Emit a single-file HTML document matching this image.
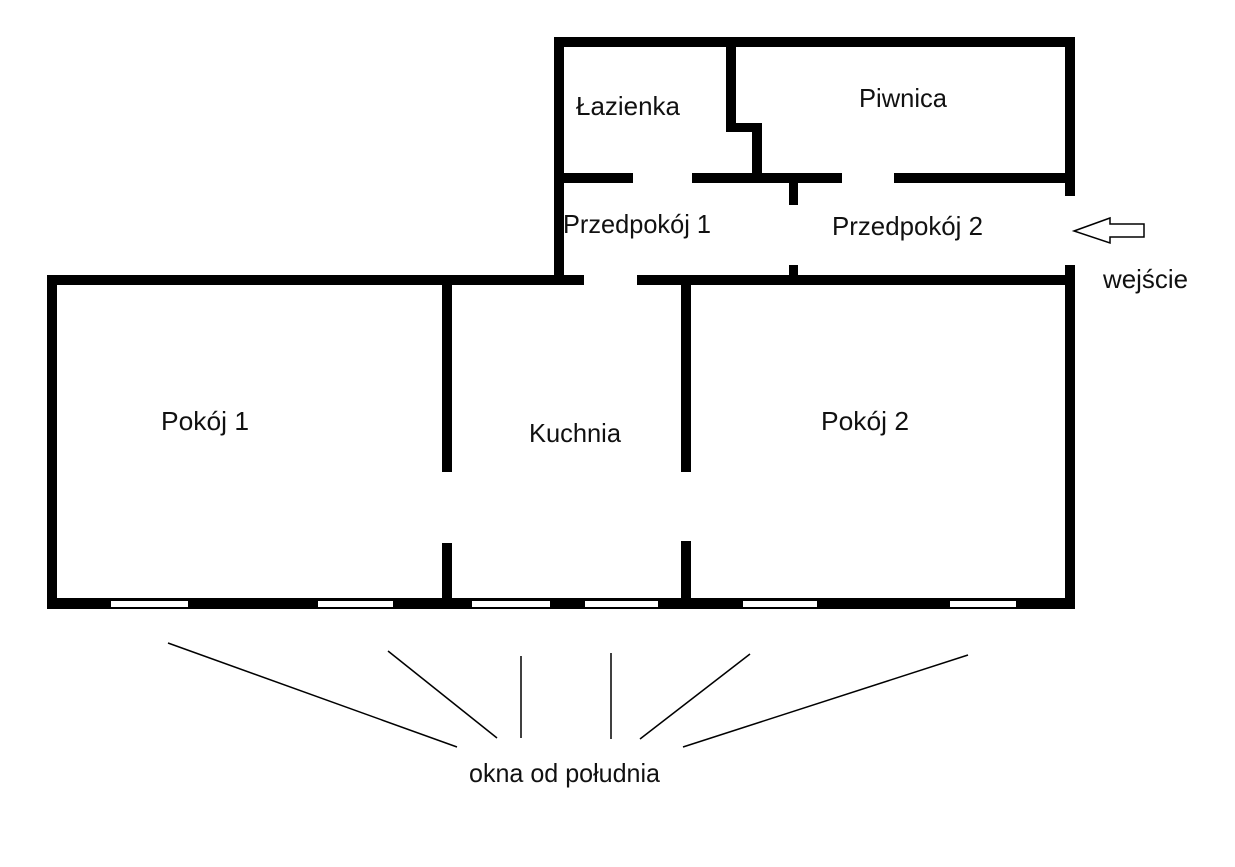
<!DOCTYPE html>
<html><head><meta charset="utf-8"><style>html,body{margin:0;padding:0;background:#fff}svg{display:block}</style></head>
<body>
<svg width="1235" height="867" viewBox="0 0 1235 867" xmlns="http://www.w3.org/2000/svg">
<rect width="1235" height="867" fill="#fff"/>
<g fill="#000">
<rect x="554" y="37" width="521" height="10"/>
<rect x="554" y="37" width="10" height="248"/>
<rect x="1065" y="37" width="10" height="159"/>
<rect x="1065" y="265" width="10" height="344"/>
<rect x="554" y="173" width="79" height="10"/>
<rect x="692" y="173" width="150" height="10"/>
<rect x="894" y="173" width="181" height="10"/>
<rect x="726" y="37" width="10" height="95"/>
<rect x="726" y="123" width="36" height="9"/>
<rect x="752" y="123" width="10" height="55"/>
<rect x="789" y="183" width="9" height="22"/>
<rect x="789" y="265" width="9" height="12"/>
<rect x="47" y="275" width="537" height="10"/>
<rect x="637" y="275" width="438" height="10"/>
<rect x="47" y="275" width="10" height="334"/>
<rect x="47" y="598" width="1028" height="11"/>
<rect x="442" y="285" width="10" height="187"/>
<rect x="442" y="543" width="10" height="60"/>
<rect x="681" y="285" width="10" height="187"/>
<rect x="681" y="541" width="10" height="62"/>
</g>
<g fill="#fff">
<rect x="111" y="601" width="77" height="6"/>
<rect x="318" y="601" width="75" height="6"/>
<rect x="472" y="601" width="78" height="6"/>
<rect x="585" y="601" width="73" height="6"/>
<rect x="743" y="601" width="74" height="6"/>
<rect x="950" y="601" width="66" height="6"/>
</g>
<polygon points="1074,231 1110,218 1110,224 1144,224 1144,237 1110,237 1110,243" fill="#fff" stroke="#000" stroke-width="1.5"/>
<g stroke="#000" stroke-width="1.5">
<line x1="168" y1="643" x2="457" y2="747"/>
<line x1="388" y1="651" x2="497" y2="738"/>
<line x1="521" y1="656" x2="521" y2="738"/>
<line x1="611" y1="653" x2="611" y2="739"/>
<line x1="750" y1="654" x2="640" y2="739"/>
<line x1="968" y1="655" x2="683" y2="747"/>
</g>
<g font-family="Liberation Sans, Arial, sans-serif" font-size="26" fill="#111">
<text x="576" y="115" textLength="104" lengthAdjust="spacingAndGlyphs">Łazienka</text>
<text x="859" y="107" textLength="88" lengthAdjust="spacingAndGlyphs">Piwnica</text>
<text x="563" y="233" textLength="148" lengthAdjust="spacingAndGlyphs">Przedpokój 1</text>
<text x="832" y="235" textLength="151" lengthAdjust="spacingAndGlyphs">Przedpokój 2</text>
<text x="1103" y="288" textLength="85" lengthAdjust="spacingAndGlyphs">wejście</text>
<text x="161" y="430" textLength="88" lengthAdjust="spacingAndGlyphs">Pokój 1</text>
<text x="529" y="442" textLength="92" lengthAdjust="spacingAndGlyphs">Kuchnia</text>
<text x="821" y="430" textLength="88" lengthAdjust="spacingAndGlyphs">Pokój 2</text>
<text x="469" y="782" textLength="191" lengthAdjust="spacingAndGlyphs">okna od południa</text>
</g>
</svg>
</body></html>
